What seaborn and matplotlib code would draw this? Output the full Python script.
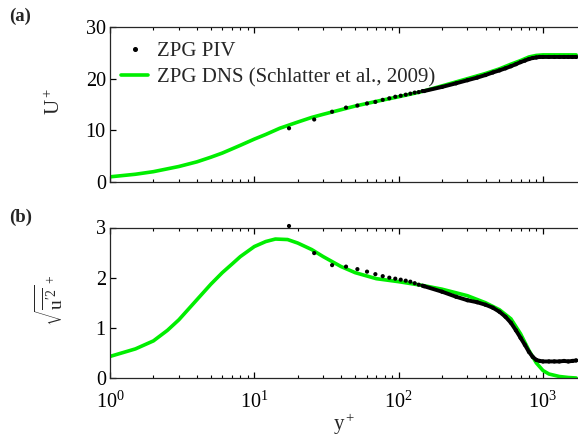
import numpy as np
import pandas as pd
import seaborn as sns
import matplotlib
matplotlib.use("Agg")
import matplotlib.pyplot as plt
from matplotlib.lines import Line2D

# ---------------- data ----------------
# DNS, panel (a)
dns_a_y = [1, 1.5, 2, 3, 4, 5, 6, 7, 8, 10, 12, 15, 20, 25, 30, 40, 50, 70, 100,
           140, 200, 300, 400, 500, 600, 700, 800, 900, 1000, 1200, 1500, 1700]
dns_a_U = [1.0, 1.5, 2.0, 3.0, 3.9, 4.8, 5.6, 6.4, 7.1, 8.3, 9.2, 10.4, 11.6, 12.5,
           13.1, 14.0, 14.7, 15.6, 16.5, 17.4, 18.6, 20.0, 21.0, 21.9, 22.8, 23.5,
           24.2, 24.5, 24.6, 24.6, 24.6, 24.6]

# DNS, panel (b)
dns_b_y = [1, 1.5, 2, 2.5, 3, 4, 5, 6, 7, 8, 10, 12, 14, 17, 20, 25, 30, 40, 50,
           70, 100, 150, 200, 300, 400, 500, 600, 700, 800, 900, 1000, 1100, 1300,
           1500, 1700]
dns_b_u = [0.43, 0.58, 0.74, 0.95, 1.16, 1.56, 1.87, 2.10, 2.27, 2.42, 2.62, 2.72,
           2.77, 2.76, 2.69, 2.56, 2.42, 2.22, 2.10, 1.98, 1.92, 1.84, 1.77, 1.64,
           1.50, 1.36, 1.18, 0.88, 0.55, 0.30, 0.15, 0.08, 0.03, 0.01, 0.0]

# PIV, near-wall (isolated points)
piv_y_sparse = [17.4, 26.0, 34.6, 43.2, 51.8, 60.4, 69.0, 77.6, 86.2, 94.8,
                103.4, 112.0, 120.6, 129.2, 137.8, 146.4]
piv_U_sparse = [10.4, 12.1, 13.6, 14.4, 14.8, 15.2, 15.5, 15.9, 16.2, 16.5,
                16.7, 16.9, 17.1, 17.3, 17.4, 17.6]
piv_u_sparse = [3.03, 2.49, 2.25, 2.22, 2.17, 2.12, 2.07, 2.03, 2.00, 1.98,
                1.96, 1.94, 1.92, 1.89, 1.86, 1.84]

# PIV, outer region (points merge into a band)
piv_y_dense = [150, 200, 250, 300, 350, 400, 450, 500, 550, 600, 650, 700, 750,
               800, 850, 900, 950, 1000, 1100, 1200, 1300, 1400, 1500, 1600, 1700]
piv_U_dense = [17.6, 18.4, 19.1, 19.7, 20.2, 20.7, 21.2, 21.6, 22.0, 22.4, 22.8,
               23.2, 23.5, 23.8, 24.0, 24.1, 24.2, 24.2, 24.2, 24.2, 24.2, 24.2,
               24.2, 24.2, 24.2]
piv_u_dense = [1.83, 1.72, 1.62, 1.55, 1.51, 1.46, 1.40, 1.32, 1.22, 1.10, 0.95,
               0.80, 0.66, 0.52, 0.42, 0.36, 0.34, 0.33, 0.33, 0.33, 0.33, 0.34,
               0.33, 0.34, 0.35]

legend_labels = ["ZPG PIV", "ZPG DNS (Schlatter et al., 2009)"]
xticks = [1, 10, 100, 1000]
xticklabels = [r"$10^{0}$", r"$10^{1}$", r"$10^{2}$", r"$10^{3}$"]
yticks_a = [0, 10, 20, 30]
yticks_b = [0, 1, 2, 3]

# ---------------- style ----------------
sns.set_theme(style="ticks")
plt.rcParams["font.family"] = ["Liberation Serif", "DejaVu Serif"]
plt.rcParams["mathtext.fontset"] = "custom"
plt.rcParams["mathtext.rm"] = "Liberation Serif"
plt.rcParams["mathtext.it"] = "Liberation Serif:italic"
plt.rcParams["mathtext.bf"] = "Liberation Serif:bold"
plt.rcParams["axes.linewidth"] = 0.9

GREEN = "#00ee00"
TFS = 14.5   # tick labels
LFS = 15     # legend / axis labels

fig = plt.figure(figsize=(5.78, 4.38), dpi=100)
ax_a = fig.add_axes([110 / 578, 1 - 182 / 438, 468 / 578, 155 / 438])
ax_b = fig.add_axes([110 / 578, 1 - 378 / 438, 468 / 578, 150.5 / 438])

df_dns_a = pd.DataFrame({"y": dns_a_y, "v": dns_a_U})
df_dns_b = pd.DataFrame({"y": dns_b_y, "v": dns_b_u})
df_ps_a = pd.DataFrame({"y": piv_y_sparse, "v": piv_U_sparse})
df_ps_b = pd.DataFrame({"y": piv_y_sparse, "v": piv_u_sparse})
df_pd_a = pd.DataFrame({"y": piv_y_dense, "v": piv_U_dense})
df_pd_b = pd.DataFrame({"y": piv_y_dense, "v": piv_u_dense})

for ax, dns, ps, pd_ in [(ax_a, df_dns_a, df_ps_a, df_pd_a),
                         (ax_b, df_dns_b, df_ps_b, df_pd_b)]:
    sns.lineplot(data=dns, x="y", y="v", ax=ax, color=GREEN, lw=2.6,
                 estimator=None, sort=False, zorder=2)
    sns.lineplot(data=pd_, x="y", y="v", ax=ax, color="black", lw=2.8,
                 estimator=None, sort=False, zorder=3)
    sns.scatterplot(data=pd_, x="y", y="v", ax=ax, color="black", s=9,
                    edgecolor="none", zorder=3)
    sns.scatterplot(data=ps, x="y", y="v", ax=ax, color="black", s=9,
                    edgecolor="none", zorder=3)
    for c in ax.collections:
        c.set_clip_on(False)
    ax.set_xscale("log")
    ax.set_xlim(1, 1750)
    ax.set_xlabel("")
    ax.set_ylabel("")
    ax.spines["right"].set_visible(False)
    ax.tick_params(which="both", direction="in", top=True, bottom=True,
                   left=True, right=False, labelsize=TFS, colors="black")
    ax.tick_params(which="major", length=4, width=0.9)
    ax.tick_params(which="minor", length=2.5, width=0.8)
    ax.tick_params(axis="y", pad=3)
    ax.tick_params(axis="x", pad=10)
    ax.set_xticks(xticks)
    ax.yaxis.set_minor_locator(matplotlib.ticker.NullLocator())

ax_a.set_ylim(0, 30)
ax_a.set_yticks(yticks_a)
ax_a.tick_params(labelbottom=False)
ax_b.set_ylim(0, 3)
ax_b.set_yticks(yticks_b)
ax_b.set_xticklabels(xticklabels)

ax_a.set_ylabel(r"U$^+$", fontsize=LFS)
ax_b.set_ylabel(r"$\sqrt{\overline{\mathrm{u}^{\prime 2}}}^{\,+}$", fontsize=LFS - 1)
ax_b.set_xlabel(r"y$^+$", fontsize=LFS)
ax_a.yaxis.set_label_coords(-0.096, 0.52)
ax_b.yaxis.set_label_coords(-0.092, 0.52)
ax_b.xaxis.set_label_coords(0.5, -0.225)

# legend
handles = [Line2D([], [], ls="none", marker="o", ms=2.6, color="black"),
           Line2D([], [], color=GREEN, lw=2.6)]
ax_a.legend(handles, legend_labels, loc="upper left",
            bbox_to_anchor=(0.024, 0.905), frameon=False, fontsize=LFS,
            handlelength=1.3, handletextpad=0.4, labelspacing=0.3,
            borderaxespad=0, borderpad=0)

fig.text(9 / 578, 1 - 8 / 438, "(a)", fontsize=13.5, fontweight="bold",
         va="top", ha="left")
fig.text(9 / 578, 1 - 209 / 438, "(b)", fontsize=13.5, fontweight="bold",
         va="top", ha="left")

fig.savefig("out.png", dpi=100)
